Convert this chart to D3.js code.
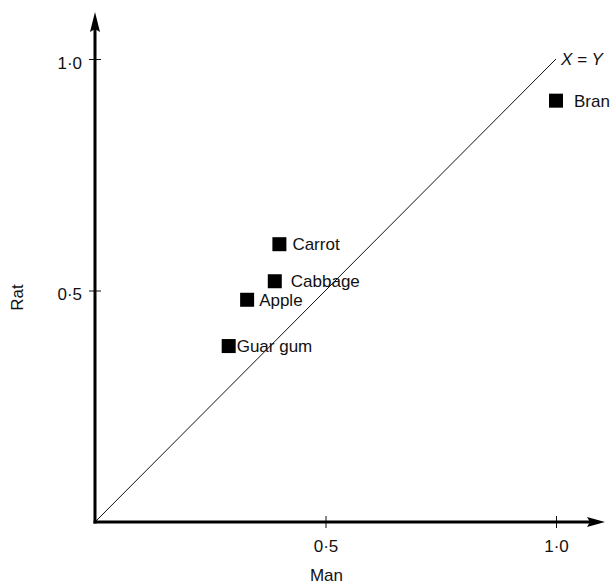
<!DOCTYPE html>
<html><head><meta charset="utf-8">
<script src="https://cdn.jsdelivr.net/npm/d3@7"></script>
<style>body{margin:0;background:#fff}svg{display:block}text{font-family:"Liberation Sans",Arial,sans-serif;fill:#111}</style>
</head><body><svg id="c" width="614" height="585"></svg>
<script>
const foods = ["Bran","Carrot","Cabbage","Apple","Guar gum"];
const manValues = [1.00, 0.40, 0.39, 0.33, 0.29];
const ratValues = [0.91, 0.60, 0.52, 0.48, 0.38];
const xTicks = [0.5, 1.0];
const yTicks = [0.5, 1.0];
const tickLabels = ["0·5", "1·0"];
const xTitle = "Man", yTitle = "Rat", lineLabel = "X = Y";

const FS = 17;
const svg = d3.select("#c");
const x = d3.scaleLinear().domain([0, 1]).range([95, 556]);
const y = d3.scaleLinear().domain([0, 1]).range([522, 59]);

// X = Y line
svg.append("line").attr("x1", x(0)).attr("y1", y(0)).attr("x2", x(1)).attr("y2", y(1))
  .attr("stroke", "#111").attr("stroke-width", 1);
svg.append("text").attr("x", x(1) + 5).attr("y", y(1) + 6)
  .attr("font-size", FS).attr("font-style", "italic").text(lineLabel);

// axes
const xAxis = d3.axisBottom(x).tickValues(xTicks).tickSize(0).tickFormat((d, i) => tickLabels[i]);
const gx = svg.append("g").attr("transform", `translate(0,${y(0)})`).call(xAxis);
gx.select(".domain").remove();
gx.selectAll("text").attr("font-size", FS).attr("y", 30).attr("dy", 0).attr("font-family", null).attr("fill", null);
gx.selectAll(".tick").append("line").attr("y1", -6).attr("y2", 6).attr("stroke", "#111").attr("stroke-width", 1);

const yAxis = d3.axisLeft(y).tickValues(yTicks).tickSize(0).tickFormat((d, i) => tickLabels[i]);
const gy = svg.append("g").attr("transform", `translate(${x(0)},0)`).call(yAxis);
gy.select(".domain").remove();
gy.selectAll("text").attr("font-size", FS).attr("x", -13).attr("dy", 0).attr("y", 9).attr("font-family", null).attr("fill", null);
gy.selectAll(".tick").append("line").attr("x1", -6).attr("x2", 6).attr("stroke", "#111").attr("stroke-width", 1);

// axis lines with arrows
svg.append("line").attr("x1", x(0) - 1.5).attr("y1", y(0)).attr("x2", 592).attr("y2", y(0))
  .attr("stroke", "#000").attr("stroke-width", 3);
svg.append("path").attr("d", `M605,${y(0)} L587,${y(0) - 5} L590,${y(0)} L587,${y(0) + 5} Z`).attr("fill", "#000");
svg.append("line").attr("x1", x(0)).attr("y1", y(0) + 1.5).attr("x2", x(0)).attr("y2", 28)
  .attr("stroke", "#000").attr("stroke-width", 3);
svg.append("path").attr("d", `M${x(0)},12 L${x(0) - 5},32 L${x(0)},29 L${x(0) + 5},32 Z`).attr("fill", "#000");

// titles
svg.append("text").attr("x", x(0.5) + 1).attr("y", 581).attr("text-anchor", "middle").attr("font-size", FS).text(xTitle);
svg.append("text").attr("transform", `translate(23,${y(0.5) + 7}) rotate(-90)`).attr("text-anchor", "middle").attr("font-size", FS).text(yTitle);

// points
const labelDx = {"Bran": 18, "Carrot": 13, "Cabbage": 16, "Apple": 12, "Guar gum": 8};
const pts = foods.map((f, i) => ({f, m: manValues[i], r: ratValues[i]}));
svg.selectAll("rect.pt").data(pts).join("rect").attr("class", "pt")
  .attr("x", d => x(d.m) - 7).attr("y", d => y(d.r) - 7).attr("width", 14).attr("height", 14).attr("fill", "#000");
svg.selectAll("text.lb").data(pts).join("text").attr("class", "lb")
  .attr("x", d => x(d.m) + labelDx[d.f]).attr("y", d => y(d.r) + 6)
  .attr("font-size", FS).text(d => d.f);
</script></body></html>
